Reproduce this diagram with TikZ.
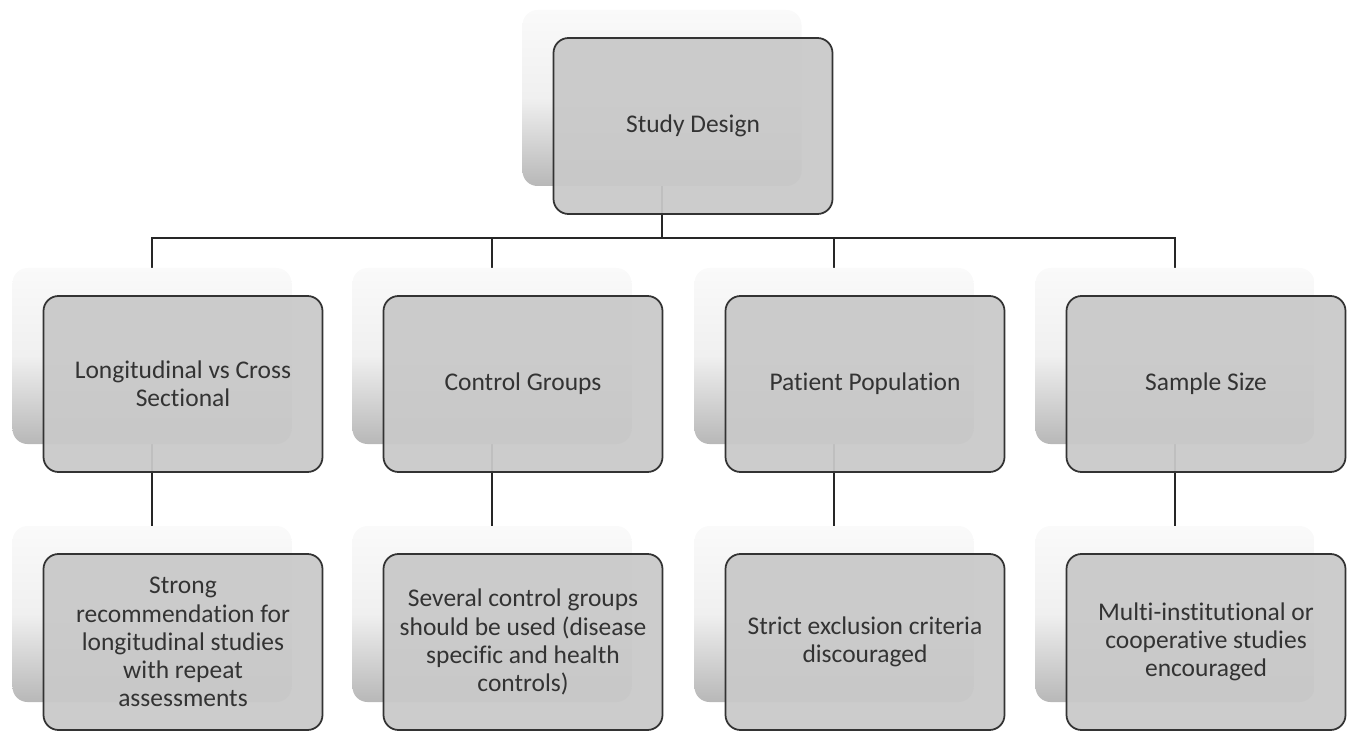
\documentclass[tikz,border=0pt]{standalone}
\usepackage{fontspec}
\setmainfont{Carlito}[Ligatures={NoCommon,NoRare},Contextuals=NoAlternate]
\usetikzlibrary{backgrounds}

\begin{document}
\begin{tikzpicture}[
  card/.style={rounded corners=3mm, minimum width=5.58cm, minimum height=3.52cm, inner sep=0pt, top color=black!2, bottom color=black!28, middle color=black!6},
  box/.style={rounded corners=3mm, draw=black!80, line width=1pt, fill=black!21, fill opacity=0.94, text opacity=1, text=black!80, minimum width=5.58cm, minimum height=3.52cm, inner sep=2pt, align=center, font=\fontsize{14.5}{16}\selectfont},
  edge/.style={line width=0.8pt, draw=black!85}
]
\useasboundingbox (0,0) rectangle (26.96,-14.64);
\coordinate (bus) at (0,-4.76);
\node[card] (s0) at (13.24,-1.96) {};
\node[box] (n0) at (13.86,-2.52) {Study Design};
\node[card] (s1) at (3.04,-7.12) {};
\node[box] (n1) at (3.66,-7.68) {Longitudinal vs Cross\\Sectional};
\node[card] (s2) at (9.84,-7.12) {};
\node[box] (n2) at (10.46,-7.68) {Control Groups};
\node[card] (s3) at (16.68,-7.12) {};
\node[box] (n3) at (17.30,-7.68) {Patient Population};
\node[card] (s4) at (23.50,-7.12) {};
\node[box] (n4) at (24.12,-7.68) {Sample Size};
\node[card] (s5) at (3.04,-12.28) {};
\node[box] (n5) at (3.66,-12.84) {Strong\\recommendation for\\longitudinal studies\\with repeat\\assessments};
\node[card] (s6) at (9.84,-12.28) {};
\node[box] (n6) at (10.46,-12.84) {Several control groups\\should be used (disease\\specific and health\\controls)};
\node[card] (s7) at (16.68,-12.28) {};
\node[box] (n7) at (17.30,-12.84) {Strict exclusion criteria\\discouraged};
\node[card] (s8) at (23.50,-12.28) {};
\node[box] (n8) at (24.12,-12.84) {Multi-institutional or\\cooperative studies\\encouraged};
\begin{pgfonlayer}{background}
\draw[edge] (s0.south) -- (s0.south |- bus) -| (s1.north);
\draw[edge] (s0.south |- bus) -| (s2.north);
\draw[edge] (s0.south |- bus) -| (s3.north);
\draw[edge] (s0.south |- bus) -| (s4.north);
\draw[edge] (s1.south) -- (s5.north);
\draw[edge] (s2.south) -- (s6.north);
\draw[edge] (s3.south) -- (s7.north);
\draw[edge] (s4.south) -- (s8.north);
\end{pgfonlayer}
\end{tikzpicture}
\end{document}
